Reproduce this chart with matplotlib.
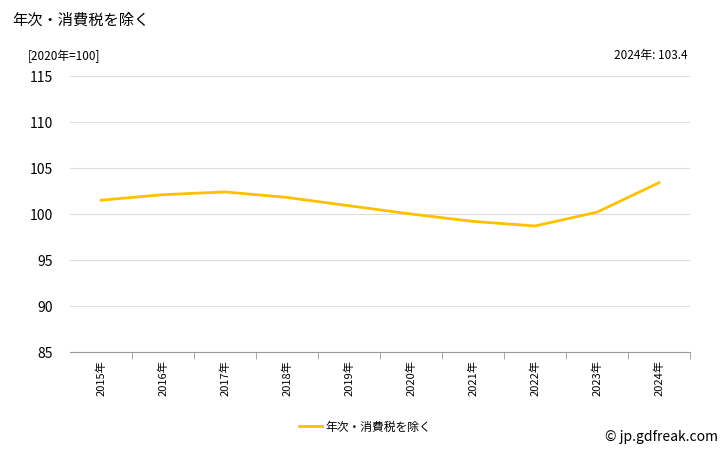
import matplotlib
matplotlib.use("Agg")
import matplotlib.pyplot as plt

plt.rcParams['font.family'] = ['Noto Sans CJK JP', 'DejaVu Sans']

years = ["2015年","2016年","2017年","2018年","2019年","2020年","2021年","2022年","2023年","2024年"]
values = [101.5, 102.1, 102.4, 101.8, 100.9, 100.0, 99.2, 98.7, 100.2, 103.4]
yticks = [85, 90, 95, 100, 105, 110, 115]

fig = plt.figure(figsize=(7.28, 4.5), dpi=100)
ax = fig.add_axes([70/728, 1-352/450, 620/728, 276/450])
x = list(range(len(years)))
ax.plot(x, values, color='#FFC000', lw=2, label='年次・消費税を除く')
ax.set_xlim(-0.5, len(years)-0.5)
ax.set_ylim(85, 115)
ax.set_yticks(yticks)
ax.set_yticklabels([str(v) for v in yticks], fontsize=10)
ax.set_xticks([i+0.5 for i in x[:-1]] + [len(years)-0.5], minor=True)
ax.set_xticks(x)
ax.set_xticklabels(years, rotation=90, fontsize=8)
ax.tick_params(axis='x', which='major', length=0, pad=6)
ax.tick_params(axis='x', which='minor', length=5, color='#999999')
ax.tick_params(axis='y', length=0, pad=12)
ax.grid(axis='y', color='#dddddd', lw=0.8)
for s in ['top', 'right', 'left']:
    ax.spines[s].set_visible(False)
ax.spines['bottom'].set_color('#999999')

fig.text(12/728, 1-20/450, '年次・消費税を除く', fontsize=11, va='center')
fig.text(28/728, 1-56/450, '[2020年=100]', fontsize=8.5, va='center')
fig.text(688/728, 1-56/450, '2024年: 103.4', fontsize=8.5, va='center', ha='right')
fig.text(718/728, 1-437/450, '© jp.gdfreak.com', fontsize=10, va='center', ha='right')
fig.legend(loc='center', bbox_to_anchor=(365/728, 1-427/450), frameon=False, fontsize=8.5,
           handlelength=2, handletextpad=0.3)
fig.savefig('out.png', dpi=100, facecolor='white')
